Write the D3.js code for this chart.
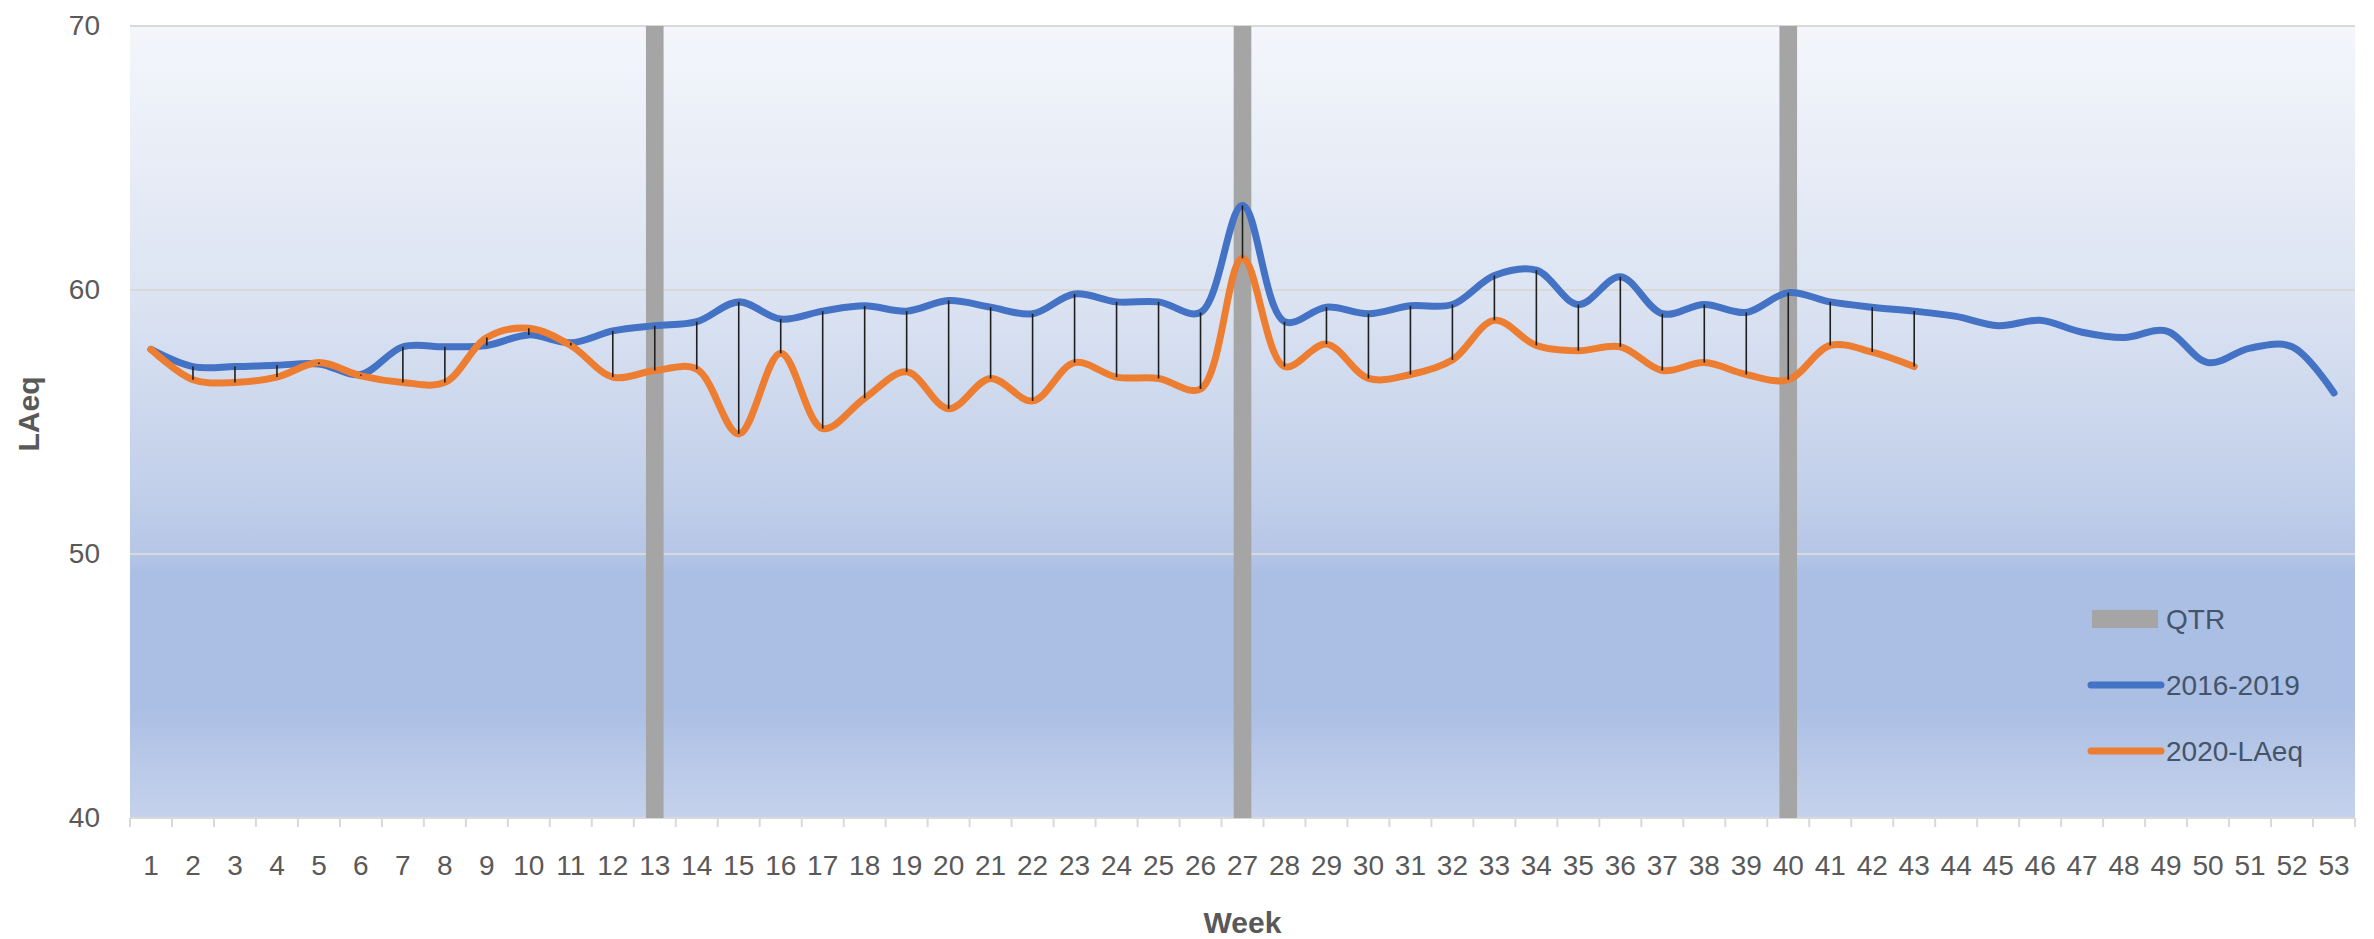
<!DOCTYPE html>
<html>
<head>
<meta charset="utf-8">
<script src="https://cdn.jsdelivr.net/npm/d3@7/dist/d3.min.js"></script>
<style>
  body { margin: 0; background: #fff; }
  text { font-family: "Liberation Sans", Arial, sans-serif; }
</style>
</head>
<body>
<div id="chart"></div>
<script>
// categories: week numbers on the x axis
const weeks = [1,2,3,4,5,6,7,8,9,10,11,12,13,14,15,16,17,18,19,20,
  21,22,23,24,25,26,27,28,29,30,31,32,33,34,35,36,37,38,39,40,
  41,42,43,44,45,46,47,48,49,50,51,52,53];

// 2016-2019 average LAeq, weeks 1..53
const baseline = [57.75,57.1,57.1,57.15,57.2,56.8,57.85,57.85,57.9,58.3,
  58.0,58.45,58.65,58.8,59.55,58.9,59.2,59.4,59.2,59.6,
  59.35,59.1,59.85,59.55,59.55,59.15,63.2,58.8,59.35,59.1,
  59.4,59.45,60.55,60.75,59.45,60.5,59.1,59.45,59.15,59.9,
  59.55,59.35,59.2,59.0,58.65,58.85,58.4,58.2,58.45,57.25,
  57.8,57.85,56.1];

// 2020 LAeq, weeks 1..43
const laeq2020 = [57.75,56.6,56.5,56.7,57.25,56.75,56.5,56.5,58.2,58.55,
  57.9,56.7,56.95,57.0,54.55,57.6,54.75,55.9,56.9,55.5,
  56.65,55.8,57.25,56.7,56.65,56.25,61.2,57.1,57.95,56.65,
  56.8,57.35,58.85,57.9,57.7,57.85,56.95,57.25,56.8,56.6,
  57.9,57.65,57.1];

// QTR columns (full height) at these weeks
const qtrWeeks = [13,27,40];
const qtrValue = 70;

const yTicks = [40,50,60,70];
const seriesNames = ['QTR','2016-2019','2020-LAeq'];

const width = 2374, height = 939;
const margin = {top: 26, right: 19, bottom: 121, left: 130};
const innerW = width - margin.left - margin.right;
const innerH = height - margin.top - margin.bottom;

const svg = d3.select('#chart').append('svg')
  .attr('width', width).attr('height', height);

// plot area gradient
const grad = svg.append('defs').append('linearGradient')
  .attr('id', 'bg').attr('x1', 0).attr('y1', 0).attr('x2', 0).attr('y2', 1);
[[0,'#f4f6fb'],[0.35,'#dbe3f2'],[0.6,'#c0cee9'],[0.665,'#b6c6e7'],
 [0.69,'#abbfe4'],[0.86,'#abbfe4'],[1,'#c6d2ec']].forEach(s => {
  grad.append('stop').attr('offset', s[0]).attr('stop-color', s[1]);
});

const g = svg.append('g')
  .attr('transform', 'translate(' + margin.left + ',' + margin.top + ')');

const x = d3.scaleBand().domain(weeks).range([0, innerW]).padding(0);
const y = d3.scaleLinear().domain([40, 70]).range([innerH, 0]);
const cx = d => x(d) + x.bandwidth() / 2;

g.append('rect').attr('width', innerW).attr('height', innerH).attr('fill', 'url(#bg)');

// gridlines
g.selectAll('.grid').data(yTicks).join('line').attr('class', 'grid')
  .attr('x1', 0).attr('x2', innerW)
  .attr('y1', d => y(d)).attr('y2', d => y(d))
  .attr('stroke', '#d9d9d9').attr('stroke-width', 2);

// x tick marks between categories
g.selectAll('.xtick').data(weeks.concat([null])).join('line').attr('class', 'xtick')
  .attr('x1', d => d === null ? innerW : x(d))
  .attr('x2', d => d === null ? innerW : x(d))
  .attr('y1', innerH).attr('y2', innerH + 9)
  .attr('stroke', '#d9d9d9').attr('stroke-width', 2);

// axes (labels only)
const xAxis = g.append('g').attr('transform', 'translate(0,' + innerH + ')')
  .call(d3.axisBottom(x).tickSize(0).tickPadding(37));
xAxis.select('.domain').remove();
xAxis.selectAll('text').attr('font-size', 28).attr('fill', '#595959')
  .style('font-family', '"Liberation Sans", Arial, sans-serif');

const yAxis = g.append('g')
  .call(d3.axisLeft(y).tickValues(yTicks).tickSize(0).tickPadding(30));
yAxis.select('.domain').remove();
yAxis.selectAll('text').attr('font-size', 28).attr('fill', '#595959')
  .style('font-family', '"Liberation Sans", Arial, sans-serif');

// QTR columns
const barW = x.bandwidth() * 0.42;
g.selectAll('.qtr').data(qtrWeeks).join('rect').attr('class', 'qtr')
  .attr('x', d => cx(d) - barW / 2)
  .attr('y', y(qtrValue))
  .attr('width', barW)
  .attr('height', y(40) - y(qtrValue))
  .attr('fill', '#a5a5a5');

const line = d3.line()
  .x((d, i) => cx(weeks[i]))
  .y(d => y(d))
  .curve(d3.curveCatmullRom.alpha(0.5));

g.append('path').datum(baseline)
  .attr('d', line).attr('fill', 'none')
  .attr('stroke', '#4472c4').attr('stroke-width', 7)
  .attr('stroke-linecap', 'round').attr('stroke-linejoin', 'round');

g.append('path').datum(laeq2020)
  .attr('d', line).attr('fill', 'none')
  .attr('stroke', '#ed7d31').attr('stroke-width', 7)
  .attr('stroke-linecap', 'round').attr('stroke-linejoin', 'round');

// high-low lines between the two series
g.selectAll('.hilo').data(laeq2020).join('line').attr('class', 'hilo')
  .attr('x1', (d, i) => cx(weeks[i])).attr('x2', (d, i) => cx(weeks[i]))
  .attr('y1', (d, i) => y(baseline[i])).attr('y2', d => y(d))
  .attr('stroke', '#1f1f1f').attr('stroke-width', 1.6);

// axis titles
svg.append('text')
  .attr('x', margin.left + innerW / 2).attr('y', 933)
  .attr('text-anchor', 'middle').attr('font-size', 30).attr('font-weight', 'bold')
  .attr('fill', '#595959').text('Week');

svg.append('text')
  .attr('transform', 'translate(39,' + (margin.top + innerH / 2 - 8) + ') rotate(-90)')
  .attr('text-anchor', 'middle').attr('font-size', 30).attr('font-weight', 'bold')
  .attr('fill', '#595959').text('LAeq');

// legend
const legend = svg.append('g').attr('transform', 'translate(2088,619)');
const items = legend.selectAll('.item').data(seriesNames).join('g')
  .attr('class', 'item')
  .attr('transform', (d, i) => 'translate(0,' + (i * 66) + ')');
items.each(function (d, i) {
  const it = d3.select(this);
  if (i === 0) {
    it.append('rect').attr('x', 4).attr('y', -9).attr('width', 66).attr('height', 18)
      .attr('fill', '#a5a5a5');
  } else {
    it.append('line').attr('x1', 3).attr('x2', 73).attr('y1', 0).attr('y2', 0)
      .attr('stroke', i === 1 ? '#4472c4' : '#ed7d31').attr('stroke-width', 7)
      .attr('stroke-linecap', 'round');
  }
});
items.append('text').attr('x', 78).attr('y', 0).attr('dy', '0.35em')
  .attr('font-size', 28).attr('fill', '#44546a').text(d => d);
</script>
</body>
</html>
